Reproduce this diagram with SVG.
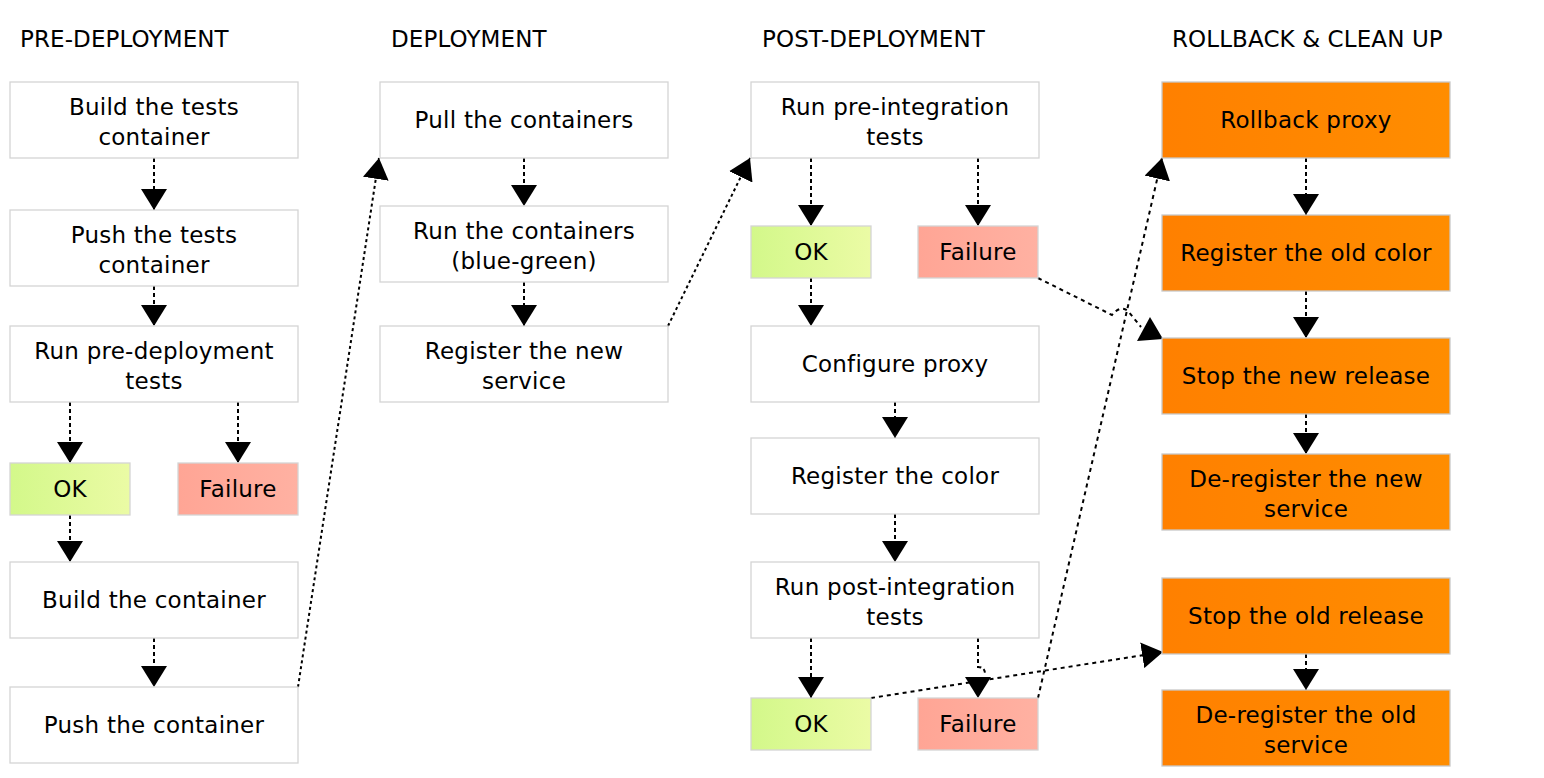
<svg xmlns="http://www.w3.org/2000/svg" width="1544" height="778" viewBox="0 0 1544 778">
<style>
.hdr{font-family:"DejaVu Sans","Noto Sans",sans-serif;font-size:23px;letter-spacing:0.1px;fill:#000}
.lbl{font-family:"DejaVu Sans","Noto Sans",sans-serif;font-size:23px;letter-spacing:0.25px;fill:#000;text-anchor:middle}
.box{fill:#fff;stroke:#d4d4d4;stroke-width:1.3}
.ok{fill:url(#gOk);stroke:#d4d4d4;stroke-width:1.3}
.fail{fill:url(#gFail);stroke:#d4d4d4;stroke-width:1.3}
.rb{fill:url(#gOr);stroke:#c8c8c8;stroke-width:1.3}
.c{fill:none;stroke:#000;stroke-width:2;stroke-dasharray:4 3;marker-end:url(#ah)}
.d{fill:none;stroke:#000;stroke-width:2;stroke-dasharray:3 3;marker-end:url(#ah)}
.e{fill:none;stroke:#000;stroke-width:2;stroke-dasharray:4 4;marker-end:url(#ah)}
.en{fill:none;stroke:#000;stroke-width:2;stroke-dasharray:4 4}
</style>
<defs>
<linearGradient id="gOk" x1="0" y1="0" x2="1" y2="0"><stop offset="0" stop-color="#d3f88a"/><stop offset="1" stop-color="#ebfba5"/></linearGradient>
<linearGradient id="gFail" x1="0" y1="0" x2="1" y2="0"><stop offset="0" stop-color="#ffa595"/><stop offset="1" stop-color="#ffb1a2"/></linearGradient>
<linearGradient id="gOr" x1="0" y1="0" x2="1" y2="0"><stop offset="0" stop-color="#ff8000"/><stop offset="1" stop-color="#ff8d00"/></linearGradient>
<marker id="ah" viewBox="0 0 21 26" refX="21" refY="13" markerWidth="21" markerHeight="26" markerUnits="userSpaceOnUse" orient="auto"><path d="M0,0 L21,13 L0,26 z" fill="#000"/></marker>
</defs>

<g id="headers">
<text class="hdr" x="20" y="47">PRE-DEPLOYMENT</text>
<text class="hdr" x="391" y="47">DEPLOYMENT</text>
<text class="hdr" x="762" y="47">POST-DEPLOYMENT</text>
<text class="hdr" x="1172" y="47">ROLLBACK &amp; CLEAN UP</text>
</g>

<g id="connectors">
<path class="c" d="M154,158 V210"/>
<path class="c" d="M154,286 V326"/>
<path class="c" d="M70,402 V463"/>
<path class="c" d="M238,402 V463"/>
<path class="c" d="M70,515 V562"/>
<path class="c" d="M154,638 V687"/>
<path class="d" d="M298,687 L379,158"/>
<path class="c" d="M524,158 V206"/>
<path class="c" d="M524,282 V326"/>
<path class="d" d="M668,326 L750,158"/>
<path class="c" d="M811,158 V226"/>
<path class="c" d="M978,158 V226"/>
<path class="c" d="M811,278 V326"/>
<path class="c" d="M895,402 V438"/>
<path class="c" d="M895,514 V562"/>
<path class="c" d="M811,638 V698"/>
<path class="c" d="M978,638 V667 Q985,667 985,674 M978,678 V698"/>
<path class="en" d="M1038,278 L1112,315 Q1120,305 1128,311 L1141,327"/>
<polygon points="1150,317 1137,341 1163,339" fill="#000"/>
<path class="e" d="M1038,698 L1162,158"/>
<path class="e" d="M871,698 L1163,652"/>
<path class="c" d="M1306,158 V215"/>
<path class="c" d="M1306,291 V338"/>
<path class="c" d="M1306,414 V454"/>
<path class="c" d="M1306,654 V690"/>
</g>

<g id="n-build-tests"><rect class="box" x="10" y="82" width="288" height="76"/><text class="lbl" x="154" y="115">Build the tests</text><text class="lbl" x="154" y="145">container</text></g>
<g id="n-push-tests"><rect class="box" x="10" y="210" width="288" height="76"/><text class="lbl" x="154" y="243">Push the tests</text><text class="lbl" x="154" y="273">container</text></g>
<g id="n-run-predeploy"><rect class="box" x="10" y="326" width="288" height="76"/><text class="lbl" x="154" y="359">Run pre-deployment</text><text class="lbl" x="154" y="389">tests</text></g>
<g id="n-ok1"><rect class="ok" x="10" y="463" width="120" height="52"/><text class="lbl" x="70" y="497">OK</text></g>
<g id="n-fail1"><rect class="fail" x="178" y="463" width="120" height="52"/><text class="lbl" x="238" y="497">Failure</text></g>
<g id="n-build-container"><rect class="box" x="10" y="562" width="288" height="76"/><text class="lbl" x="154" y="608">Build the container</text></g>
<g id="n-push-container"><rect class="box" x="10" y="687" width="288" height="76"/><text class="lbl" x="154" y="733">Push the container</text></g>

<g id="n-pull"><rect class="box" x="380" y="82" width="288" height="76"/><text class="lbl" x="524" y="128">Pull the containers</text></g>
<g id="n-run-containers"><rect class="box" x="380" y="206" width="288" height="76"/><text class="lbl" x="524" y="239">Run the containers</text><text class="lbl" x="524" y="269">(blue-green)</text></g>
<g id="n-register-new"><rect class="box" x="380" y="326" width="288" height="76"/><text class="lbl" x="524" y="359">Register the new</text><text class="lbl" x="524" y="389">service</text></g>

<g id="n-run-preint"><rect class="box" x="751" y="82" width="288" height="76"/><text class="lbl" x="895" y="115">Run pre-integration</text><text class="lbl" x="895" y="145">tests</text></g>
<g id="n-ok2"><rect class="ok" x="751" y="226" width="120" height="52"/><text class="lbl" x="811" y="260">OK</text></g>
<g id="n-fail2"><rect class="fail" x="918" y="226" width="120" height="52"/><text class="lbl" x="978" y="260">Failure</text></g>
<g id="n-config-proxy"><rect class="box" x="751" y="326" width="288" height="76"/><text class="lbl" x="895" y="372">Configure proxy</text></g>
<g id="n-register-color"><rect class="box" x="751" y="438" width="288" height="76"/><text class="lbl" x="895" y="484">Register the color</text></g>
<g id="n-run-postint"><rect class="box" x="751" y="562" width="288" height="76"/><text class="lbl" x="895" y="595">Run post-integration</text><text class="lbl" x="895" y="625">tests</text></g>
<g id="n-ok3"><rect class="ok" x="751" y="698" width="120" height="52"/><text class="lbl" x="811" y="732">OK</text></g>
<g id="n-fail3"><rect class="fail" x="918" y="698" width="120" height="52"/><text class="lbl" x="978" y="732">Failure</text></g>

<g id="n-rollback-proxy"><rect class="rb" x="1162" y="82" width="288" height="76"/><text class="lbl" x="1306" y="128">Rollback proxy</text></g>
<g id="n-register-old-color"><rect class="rb" x="1162" y="215" width="288" height="76"/><text class="lbl" x="1306" y="261">Register the old color</text></g>
<g id="n-stop-new"><rect class="rb" x="1162" y="338" width="288" height="76"/><text class="lbl" x="1306" y="384">Stop the new release</text></g>
<g id="n-dereg-new"><rect class="rb" x="1162" y="454" width="288" height="76"/><text class="lbl" x="1306" y="487">De-register the new</text><text class="lbl" x="1306" y="517">service</text></g>
<g id="n-stop-old"><rect class="rb" x="1162" y="578" width="288" height="76"/><text class="lbl" x="1306" y="624">Stop the old release</text></g>
<g id="n-dereg-old"><rect class="rb" x="1162" y="690" width="288" height="76"/><text class="lbl" x="1306" y="723">De-register the old</text><text class="lbl" x="1306" y="753">service</text></g>
</svg>
